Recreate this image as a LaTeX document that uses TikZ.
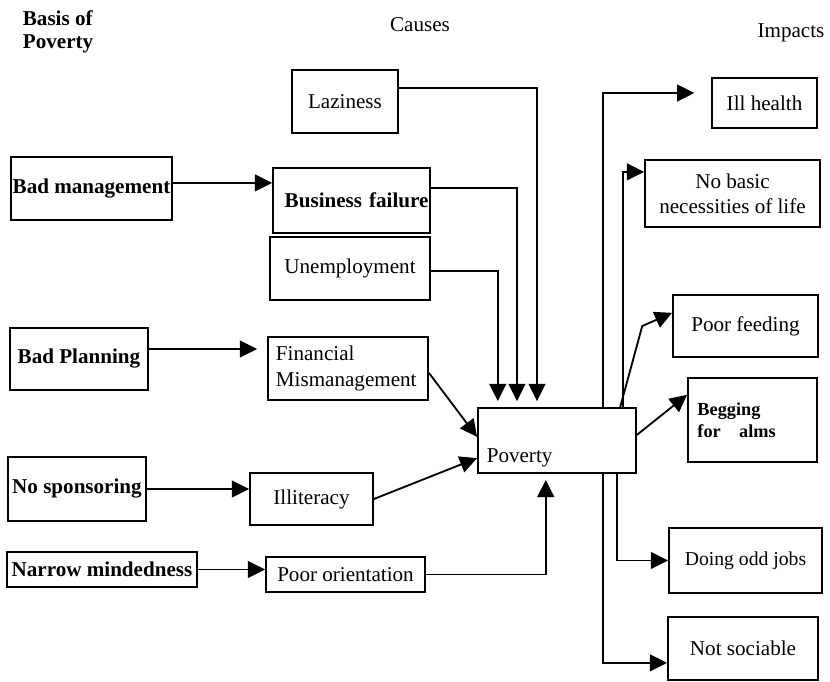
\documentclass[tikz,border=0pt]{standalone}
\usepackage{fontspec}
\setmainfont{Liberation Serif}
\usetikzlibrary{arrows.meta}
\tikzset{sz/.style 2 args={minimum width=#1*0.025cm,minimum height=#2*0.025cm}}

\begin{document}
\begin{tikzpicture}[x=0.025cm,y=-0.025cm,->,>={Triangle[length=0.43cm,width=0.42cm]},line width=1.3pt,font=\fontsize{15}{18}\selectfont]

            \tikzstyle{box}=[draw=black,rectangle,inner sep=1pt,align=center]
            \tikzstyle{strong}=[font=\fontsize{15}{18}\selectfont\bfseries]
            \tikzstyle{heading}=[inner sep=0pt]

            \useasboundingbox (0,0) rectangle (830,682);

            % column headings
            \node[heading,anchor=north west,align=left,font=\fontsize{15}{16.5}\selectfont\bfseries] (basis) at (22,10) {Basis of\\Poverty};
            \node[heading] (causes)  at (420,25) {Causes};
            \node[heading] (impacts) at (791,33) {Impacts};

            % basis of poverty
            \node[box,strong,sz={153}{63}] (badmgmt) at (91.5,188.5) {Bad management};
            \node[box,strong,sz={138}{62}] (badplan) at (79,359)     {Bad Planning};
            \node[box,strong,sz={138}{64}] (nospons) at (77,489)     {No sponsoring};
            \node[box,strong,sz={190}{35}] (narrow)  at (102,569.5)  {Narrow mindedness};

            % causes
            \node[box,sz={106}{63}] (lazy)       at (345,101.5)  {Laziness};
            \node[box,strong,sz={157}{65},text width=3.85cm,align=right] (busfail) at (351.5,200.5) {Business failure};
            \node[box,sz={160}{63}] (unemp)      at (350,268.5)  {Unemployment};
            \node[box,sz={160}{63},text width=3.6cm,align=left] (finmis) at (348,368.5) {Financial\\Mismanagement};
            \node[box,sz={123}{52}] (illit)      at (311.5,499)  {Illiteracy};
            \node[box,sz={159}{35}] (poororient) at (345.5,574.5) {Poor orientation};

            \node[box,sz={158}{65}] (poverty) at (557,440.5) {};
            \node[heading,anchor=base west] (povlabel) at ([xshift=0.22cm,yshift=-0.54cm]poverty.west) {Poverty};

            % impacts
            \node[box,sz={105}{50}] (health)  at (764.5,103) {Ill health};
            \node[box,sz={175}{67}] (basics)  at (732.5,193.5) {No basic\\necessities of life};
            \node[box,sz={145}{62}] (feeding) at (745.5,326) {Poor feeding};
            \node[box,sz={129}{84},text width=2.75cm,align=left,font=\fontsize{13}{16}\selectfont\bfseries] (begging) at (752.5,420) {Begging\\for\quad alms};
            \node[box,sz={153}{65},font=\fontsize{14}{17}\selectfont] (oddjobs) at (745.5,560.5) {Doing odd jobs};
            \node[box,sz={150}{63}] (social)  at (743,648.5) {Not sociable};

            % basis to causes
            \draw ([yshift=0.14cm]badmgmt.east) -- ([yshift=0.14cm]badmgmt.east -| busfail.west);
            \draw[shorten >=0.25cm] ([yshift=0.25cm]badplan.east) -- ([yshift=0.25cm]badplan.east -| finmis.west);
            \draw (nospons.east) -- (nospons.east -| illit.west);
            \draw (narrow.east) -- (narrow.east -| poororient.west);

            % causes to poverty
            \draw[shorten >=0.15cm] ([yshift=0.34cm]lazy.east) -| ([xshift=-0.5cm]poverty.north);
            \draw[shorten >=0.15cm] ([yshift=0.31cm]busfail.east) -| ([xshift=-1cm]poverty.north);
            \draw[shorten >=0.15cm] ([yshift=-0.06cm]unemp.east) -| ([xshift=-1.48cm]poverty.north);
            \draw ([yshift=-0.11cm]finmis.east) -- ([yshift=0.09cm]poverty.west);
            \draw (illit.east) -- ([yshift=-0.44cm]poverty.west);
            \draw[shorten >=0.15cm] (poororient.east) -| ([xshift=-0.28cm]poverty.south);

            % poverty to impacts
            \draw[shorten >=0.42cm] ([xshift=1.15cm]poverty.north) |- ([yshift=0.25cm]health.west);
            \draw ([xshift=1.65cm]poverty.north) |- ([yshift=0.54cm]basics.west);
            \draw ([xshift=1.58cm]poverty.north) -- ++(22,-81) -- ([yshift=0.33cm]feeding.west);
            \draw ([yshift=0.14cm]poverty.east) -- ([yshift=0.63cm]begging.west);
            \draw ([xshift=1.5cm]poverty.south) |- (oddjobs.west);
            \draw ([xshift=1.15cm]poverty.south) |- ([yshift=-0.36cm]social.west);
        \end{tikzpicture}
\end{document}
